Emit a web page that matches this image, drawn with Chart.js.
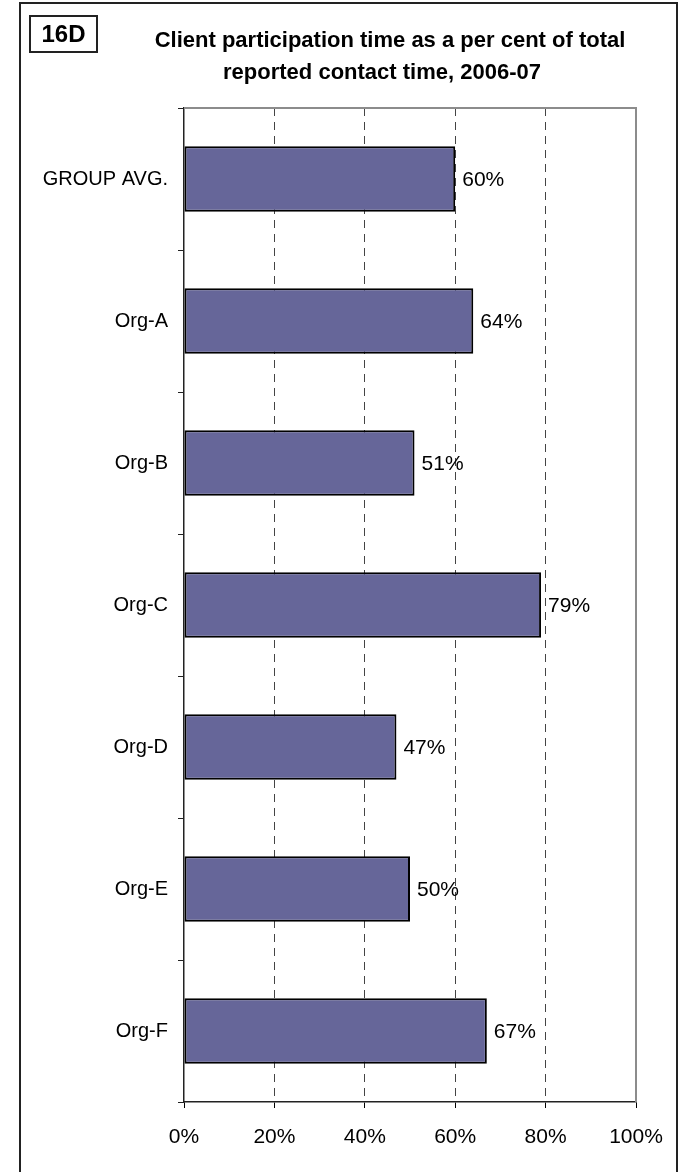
<!DOCTYPE html>
<html>
<head>
<meta charset="utf-8">
<script src="https://cdn.jsdelivr.net/npm/chart.js@4.4.1/dist/chart.umd.min.js"></script>
<style>
  html, body { margin: 0; padding: 0; background: #fff; }
  #wrap { position: relative; width: 684px; height: 1172px; }
</style>
</head>
<body>
<div id="wrap"><canvas id="chart" width="684" height="1172"></canvas></div>
<script>
const categories = ["GROUP AVG.", "Org-A", "Org-B", "Org-C", "Org-D", "Org-E", "Org-F"];
const values = [60, 64, 51, 79, 47, 50, 67];
const titleLines = ["Client participation time as a per cent of total", "reported contact time, 2006-07"];
const boxLabel = "16D";

const barColor = "#666699";
const font = "Arial, 'Liberation Sans', sans-serif";

// frame, 16D box, title and the grey top/right plot border
const decorPlugin = {
    id: "decor",
    afterDraw(chart) {
        const ctx = chart.ctx;
        const area = chart.chartArea;
        ctx.save();

        ctx.strokeStyle = "#222";
        ctx.lineWidth = 2;
        ctx.beginPath();
        ctx.moveTo(20, 1200);
        ctx.lineTo(20, 3);
        ctx.lineTo(677, 3);
        ctx.lineTo(677, 1200);
        ctx.stroke();

        ctx.strokeRect(30, 16, 67, 36);
        ctx.fillStyle = "#000";
        ctx.font = "bold 24px " + font;
        ctx.textAlign = "center";
        ctx.textBaseline = "middle";
        ctx.fillText(boxLabel, 63.5, 35);

        ctx.font = "bold 22px " + font;
        ctx.fillText(titleLines[0], 390, 41);
        ctx.fillText(titleLines[1], 382, 73);

        ctx.strokeStyle = "#8c8c8c";
        ctx.lineWidth = 2;
        ctx.beginPath();
        ctx.moveTo(area.left, area.top);
        ctx.lineTo(area.right, area.top);
        ctx.lineTo(area.right, area.bottom);
        ctx.stroke();
        ctx.restore();
    },
    afterDatasetsDraw(chart) {
        const ctx = chart.ctx;
        const meta = chart.getDatasetMeta(0);
        ctx.save();
        ctx.fillStyle = "#000";
        ctx.font = "21px " + font;
        ctx.textAlign = "left";
        ctx.textBaseline = "middle";
        meta.data.forEach((bar, i) => {
            ctx.fillText(values[i] + "%", bar.x + 7, bar.y + 1);
        });
        ctx.restore();
    }
};

const ctx = document.getElementById("chart").getContext("2d");
const chart = new Chart(ctx, {
    type: "bar",
    data: {
        labels: categories,
        datasets: [{
            data: values,
            backgroundColor: barColor,
            borderColor: "#000",
            borderWidth: 2,
            borderSkipped: false,
            categoryPercentage: 1,
            barPercentage: 0.46
        }]
    },
    options: {
        indexAxis: "y",
        responsive: false,
        animation: false,
        layout: { padding: { left: 0, top: 108, right: 48, bottom: 0 } },
        plugins: {
            legend: { display: false },
            tooltip: { enabled: false }
        },
        scales: {
            x: {
                min: 0,
                max: 100,
                afterFit: s => { s.height = 70; },
                ticks: {
                    stepSize: 20,
                    color: "#000",
                    padding: 17,
                    font: { family: font, size: 21 },
                    callback: v => v + "%"
                },
                grid: {
                    color: c => (c.tick && (c.tick.value === 0 || c.tick.value === 100)) ? "rgba(0,0,0,0)" : "#444",
                    tickColor: "#000",
                    tickLength: 6
                },
                border: { color: "#222", width: 1.5, dash: [8, 6] }
            },
            y: {
                afterFit: s => { s.width = 184; },
                ticks: {
                    color: "#000",
                    padding: 10,
                    font: { family: font, size: 20 }
                },
                grid: {
                    offset: true,
                    drawOnChartArea: false,
                    tickColor: "#222",
                    tickLength: 6
                },
                border: { color: "#222", width: 1.5 }
            }
        }
    },
    plugins: [decorPlugin]
});
</script>
</body>
</html>
